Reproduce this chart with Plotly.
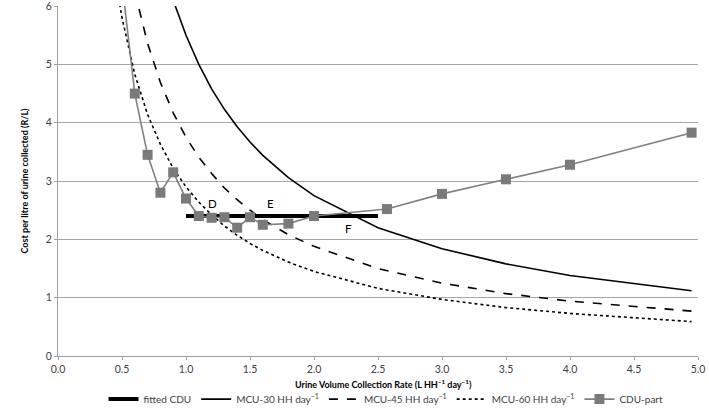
import plotly.graph_objects as go

# CDU-part data
cdu_x = [0.5, 0.6, 0.7, 0.8, 0.9, 1.0, 1.1, 1.2, 1.3, 1.4, 1.5, 1.6, 1.8, 2.0, 2.57, 3.0, 3.5, 4.0, 4.95]
cdu_y = [6.4, 4.5, 3.45, 2.8, 3.15, 2.7, 2.4, 2.37, 2.38, 2.2, 2.38, 2.25, 2.27, 2.4, 2.52, 2.78, 3.03, 3.28, 3.83]

# fitted CDU
fit_x = [1.0, 2.5]
fit_y = [2.4, 2.4]

# MCU curves
mcu30_x = [0.9, 1.0, 1.1, 1.2, 1.3, 1.4, 1.5, 1.6, 1.8, 2.0, 2.5, 3.0, 3.5, 4.0, 4.95]
mcu30_y = [6.1, 5.5, 5.0, 4.58, 4.23, 3.93, 3.67, 3.44, 3.06, 2.75, 2.2, 1.84, 1.58, 1.38, 1.12]

mcu45_x = [0.6, 0.7, 0.8, 0.9, 1.0, 1.1, 1.2, 1.3, 1.4, 1.5, 1.6, 1.8, 2.0, 2.5, 3.0, 3.5, 4.0, 4.95]
mcu45_y = [6.25, 5.36, 4.69, 4.17, 3.75, 3.41, 3.13, 2.88, 2.68, 2.5, 2.34, 2.08, 1.88, 1.5, 1.25, 1.07, 0.94, 0.77]

mcu60_x = [0.45, 0.5, 0.6, 0.7, 0.8, 0.9, 1.0, 1.1, 1.2, 1.3, 1.4, 1.5, 1.6, 1.8, 2.0, 2.5, 3.0, 3.5, 4.0, 4.95]
mcu60_y = [6.44, 5.8, 4.83, 4.14, 3.63, 3.22, 2.9, 2.64, 2.42, 2.23, 2.07, 1.93, 1.81, 1.61, 1.45, 1.16, 0.97, 0.83, 0.73, 0.59]

y_ticks = [0, 1, 2, 3, 4, 5, 6]

labels = ["D", "E", "F"]
label_x = [1.21, 1.66, 2.27]
label_y = [2.62, 2.62, 2.18]

x_title = "<b>Urine Volume Collection Rate (L HH<sup>−1</sup> day<sup>−1</sup>)</b>"
y_title = "<b>Cost per litre of urine collected (R/L)</b>"

FONT = "Lato, Open Sans, Liberation Sans, sans-serif"

fig = go.Figure()
fig.add_trace(go.Scatter(x=fit_x, y=fit_y, mode="lines", name="fitted CDU",
                         line=dict(color="black", width=4)))
fig.add_trace(go.Scatter(x=mcu30_x, y=mcu30_y, mode="lines", name="MCU-30 HH day<sup>−1</sup>",
                         line=dict(color="black", width=1.6)))
fig.add_trace(go.Scatter(x=mcu45_x, y=mcu45_y, mode="lines", name="MCU-45 HH day<sup>−1</sup>",
                         line=dict(color="black", width=1.6, dash="dash")))
fig.add_trace(go.Scatter(x=mcu60_x, y=mcu60_y, mode="lines", name="MCU-60 HH day<sup>−1</sup>",
                         line=dict(color="black", width=1.6, dash="dot")))
fig.add_trace(go.Scatter(x=cdu_x, y=cdu_y, mode="lines+markers", name="CDU-part",
                         line=dict(color="#808080", width=1.6),
                         marker=dict(symbol="square", size=10, color="#7a7a7a")))

for t, x, y in zip(labels, label_x, label_y):
    fig.add_annotation(x=x, y=y, text=t, showarrow=False,
                       font=dict(family=FONT, size=11.5, color="black"))

fig.add_annotation(xref="paper", yref="paper", x=0.508, y=-0.079, yanchor="middle",
                   text=x_title, showarrow=False,
                   font=dict(family=FONT, size=9, color="black"))

fig.update_layout(
    width=709, height=414,
    margin=dict(l=58, r=11, t=6, b=58, autoexpand=False),
    plot_bgcolor="white", paper_bgcolor="white",
    font=dict(family=FONT, size=10.5, color="#404040"),
    showlegend=True,
    legend=dict(orientation="h", xref="container", yref="container",
                x=0.146, xanchor="left", y=0.036, yanchor="middle",
                font=dict(size=10, color="#404040"), itemwidth=30,
                tracegroupgap=0),
)
fig.update_xaxes(range=[0, 5], dtick=0.5, tickformat=".1f",
                 showgrid=False, showline=True, linecolor="#a0a0a0", linewidth=1,
                 ticks="outside", ticklen=3, tickcolor="#a0a0a0",
                 zeroline=False, automargin=False)
fig.update_yaxes(range=[0, 6.002], tickmode="array", tickvals=y_ticks,
                 ticklabeloverflow="allow",
                 showgrid=True, gridcolor="#a6a6a6", gridwidth=1,
                 showline=True, linecolor="#a0a0a0", linewidth=1,
                 ticks="outside", ticklen=3, tickcolor="#a0a0a0",
                 zeroline=False, automargin=False,
                 title=dict(text=y_title, font=dict(size=9, color="black"), standoff=15))

fig.write_html("out.html")
